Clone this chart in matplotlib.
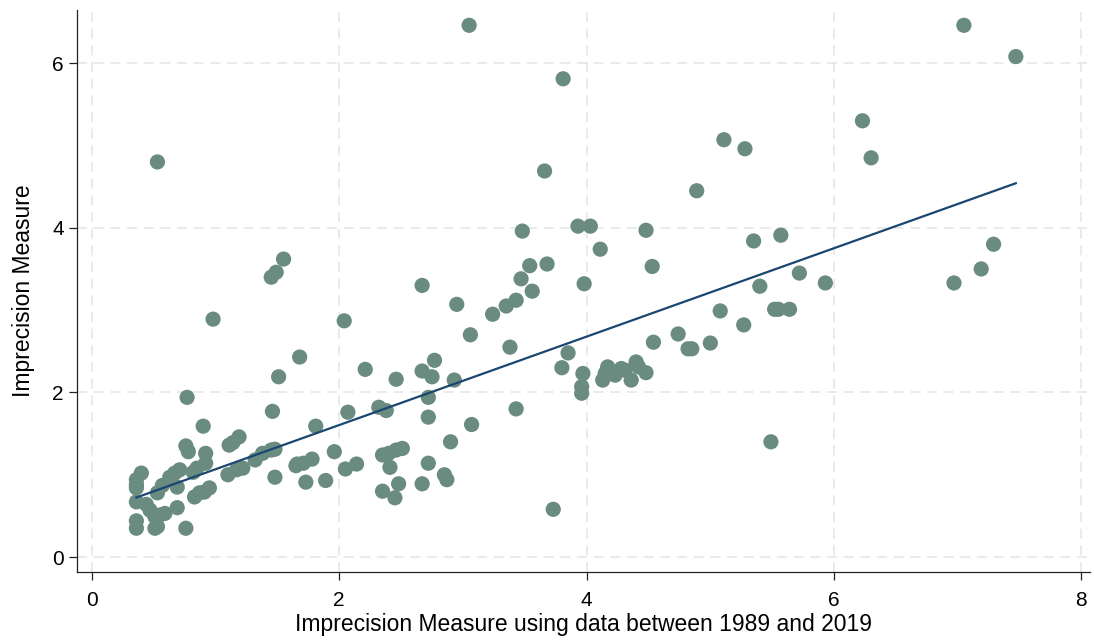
# Imprecision measure: full sample vs 1989-2019 subsample, with linear fit
import numpy as np
import matplotlib
matplotlib.use("Agg")
import matplotlib.pyplot as plt

plt.rcParams["font.family"] = ["Liberation Sans", "DejaVu Sans"]

# ── data ──────────────────────────────────────────────────
x_sub = [
    3.05, 7.05, 7.47, 3.81, 0.53, 6.23, 6.30, 5.11, 5.28, 4.89, 3.66,
    3.48, 3.93, 4.03, 4.48, 4.11, 4.53, 3.54, 3.68, 3.47, 3.56, 3.98,
    2.95, 3.43, 3.35, 3.24, 3.06, 3.38, 3.85, 3.80, 3.97, 3.96, 3.96,
    4.13, 4.15, 4.17, 4.23, 4.28, 4.31, 4.36, 4.40, 4.42, 4.48, 4.54,
    4.74, 4.82, 4.85, 5.00, 2.93, 3.43, 3.07, 2.90, 2.85, 2.87, 3.73,
    2.77, 5.35, 5.57, 5.72, 5.93, 5.40, 5.08, 5.52, 5.55, 5.64, 5.27,
    5.49, 6.97, 7.19, 7.29,
    1.45, 1.49, 1.55, 0.98, 1.68, 1.51, 0.77, 1.46, 0.90, 1.81, 1.19,
    1.14, 1.11, 0.76, 0.78, 0.92, 0.92, 1.48, 1.45, 1.38, 1.32, 1.96,
    0.40, 0.36, 0.36, 0.36, 0.71, 0.67, 0.63, 0.57, 0.53, 0.82, 0.85,
    0.69, 0.36, 0.44, 0.47, 0.51, 0.55, 0.59, 0.69, 0.36, 0.36, 0.51,
    0.53, 0.76, 1.10, 1.17, 1.22, 0.83, 0.87, 0.91, 0.95, 1.48, 1.73,
    1.89, 1.66, 1.71, 1.78,
    2.04, 2.21, 2.67, 2.67, 2.75, 2.46, 2.72, 2.32, 2.38, 2.07, 2.72,
    1.65, 2.05, 2.14, 2.35, 2.40, 2.46, 2.51, 2.41, 2.72, 2.35, 2.48,
    2.45, 2.67,
]
y_full = [
    6.46, 6.46, 6.08, 5.81, 4.80, 5.30, 4.85, 5.07, 4.96, 4.45, 4.69,
    3.96, 4.02, 4.02, 3.97, 3.74, 3.53, 3.54, 3.56, 3.38, 3.23, 3.32,
    3.07, 3.12, 3.05, 2.95, 2.70, 2.55, 2.48, 2.30, 2.23, 2.07, 1.99,
    2.15, 2.23, 2.31, 2.21, 2.29, 2.27, 2.15, 2.37, 2.31, 2.24, 2.61,
    2.71, 2.53, 2.53, 2.60, 2.15, 1.80, 1.61, 1.40, 1.00, 0.94, 0.58,
    2.39, 3.84, 3.91, 3.45, 3.33, 3.29, 2.99, 3.01, 3.01, 3.01, 2.82,
    1.40, 3.33, 3.50, 3.80,
    3.40, 3.46, 3.62, 2.89, 2.43, 2.19, 1.94, 1.77, 1.59, 1.59, 1.46,
    1.39, 1.36, 1.35, 1.28, 1.26, 1.14, 1.31, 1.30, 1.26, 1.18, 1.28,
    1.02, 0.94, 0.88, 0.84, 1.06, 1.02, 0.97, 0.87, 0.78, 1.03, 1.08,
    0.85, 0.67, 0.64, 0.57, 0.49, 0.51, 0.53, 0.60, 0.44, 0.35, 0.35,
    0.37, 0.35, 1.00, 1.06, 1.08, 0.73, 0.78, 0.79, 0.84, 0.97, 0.91,
    0.93, 1.13, 1.14, 1.19,
    2.87, 2.28, 3.30, 2.26, 2.19, 2.16, 1.94, 1.82, 1.78, 1.76, 1.70,
    1.11, 1.07, 1.13, 1.24, 1.26, 1.30, 1.32, 1.09, 1.14, 0.80, 0.89,
    0.72, 0.89,
]

# fitted line: intercept and slope
fit_b0 = 0.53
fit_b1 = 0.537

x_ticks = [0, 2, 4, 6, 8]
y_ticks = [0, 2, 4, 6]

# ── plot ──────────────────────────────────────────────────
fig = plt.figure(figsize=(10.94, 6.44), dpi=100)
ax = fig.add_axes([0.0704, 0.112, 0.926, 0.873])

ax.scatter(x_sub, y_full, s=120, color="#6a8b7f", edgecolors="none", zorder=3)

xs = np.array([min(x_sub), max(x_sub)])
ax.plot(xs, fit_b0 + fit_b1 * xs, color="#1a476f", linewidth=1.6, zorder=4)

ax.set_xlim(-0.12, 8.07)
ax.set_ylim(-0.18, 6.65)
ax.set_xticks(x_ticks)
ax.set_yticks(y_ticks)
ax.grid(True, color="#e6e6e6", linestyle=(0, (6, 4)), linewidth=1.2, zorder=0)

for side in ["top", "right"]:
    ax.spines[side].set_visible(False)
for side in ["left", "bottom"]:
    ax.spines[side].set_color("#222222")
    ax.spines[side].set_linewidth(0.9)
ax.tick_params(direction="out", length=6, width=0.9, labelsize=15, color="#222222")
ax.tick_params(axis="x", pad=8)

ax.set_xlabel("Imprecision Measure using data between 1989 and 2019", fontsize=16.5, labelpad=2)
ax.set_ylabel("Imprecision Measure", fontsize=16.5, labelpad=12)

fig.savefig("out.png", dpi=100)
